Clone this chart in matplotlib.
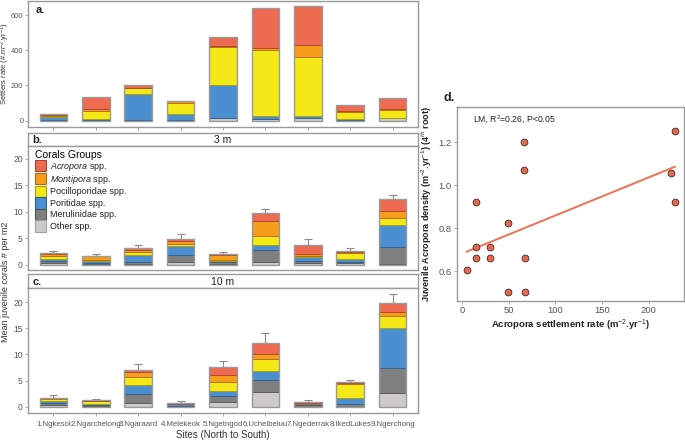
import matplotlib
matplotlib.use("Agg")
import matplotlib.pyplot as plt
from matplotlib.patches import Patch
import numpy as np

plt.rcParams['font.family'] = ['Liberation Sans', 'DejaVu Sans']
plt.rcParams['mathtext.fontset'] = 'custom'
plt.rcParams['mathtext.rm'] = 'Liberation Sans'
plt.rcParams['mathtext.it'] = 'Liberation Sans:italic'
plt.rcParams['mathtext.bf'] = 'Liberation Sans:bold'

sites = ["1.Ngkesol", "2.Ngarchelong", "3.Ngaraard", "4.Melekeok", "5.Ngetngod",
         "6.Uchelbeluu", "7.Ngederrak", "8.IkedLukes", "9.Ngerchong"]
groups = ["Other spp.", "Merulinidae spp.", "Poritidae spp.", "Pocilloporidae spp.",
          "Montipora spp.", "Acropora spp."]
legend_labels = ["Other spp.", "Merulinidae spp.", "Poritidae spp.", "Pocilloporidae spp.",
                 r"$\it{Montipora}$ spp.", r"$\it{Acropora}$ spp."]

# Panel a: settlers rate (segment heights, bottom -> top)
set_other = [0, 0, 0, 0, 13, 10, 17, 0, 15]
set_meru = [3, 3, 5, 5, 0, 0, 0, 2, 0]
set_pori = [15, 8, 145, 33, 187, 18, 9, 8, 0]
set_poci = [7, 45, 35, 64, 218, 373, 337, 41, 44]
set_mont = [5, 8, 0, 11, 6, 10, 65, 4, 7]
set_acro = [8, 68, 15, 0, 49, 227, 225, 34, 65]

# Panel b: juveniles 3 m
j3_other = [0.4, 0.2, 0.1, 0.6, 0.2, 0.6, 0.4, 0.3, 0.2]
j3_meru = [0.4, 0.2, 0.4, 1.2, 0.4, 2.3, 0.4, 0.3, 3.1]
j3_pori = [0.4, 0.3, 1.4, 1.8, 0.1, 0.8, 0.7, 0.6, 4.3]
j3_poci = [0.5, 0.3, 0.6, 0.3, 0.3, 1.7, 0.2, 1.1, 1.3]
j3_mont = [0.3, 0.6, 0.4, 0.7, 0.8, 2.85, 0.3, 0.2, 1.2]
j3_acro = [0.2, 0.15, 0.35, 0.2, 0.2, 1.5, 1.75, 0.05, 2.4]
j3_err = [0.5, 0.25, 0.45, 0.95, 0.4, 0.85, 1.05, 0.55, 0.6]

# Panel c: juveniles 10 m
j10_other = [0.3, 0.1, 0.8, 0.0, 0.9, 2.9, 0.0, 0.0, 2.7]
j10_meru = [0.4, 0.3, 1.7, 0.2, 1.1, 2.3, 0.3, 0.5, 4.7]
j10_pori = [0.3, 0.1, 1.6, 0.4, 1.1, 1.6, 0.3, 1.2, 7.6]
j10_poci = [0.4, 0.6, 1.5, 0.0, 1.6, 2.4, 0.0, 2.65, 2.4]
j10_mont = [0.2, 0.05, 1.0, 0.0, 1.4, 0.9, 0.1, 0.15, 0.7]
j10_acro = [0.1, 0.05, 0.4, 0.1, 1.4, 2.0, 0.15, 0.15, 1.7]
j10_err = [0.5, 0.25, 1.25, 0.3, 1.3, 1.95, 0.35, 0.4, 1.7]

# Panel d: scatter
acro_settle = [5, 14.6, 14.6, 14.6, 29.6, 29.6, 49.6, 49.6, 66.4, 66.4, 67.5, 67.5, 224, 227.9, 227.9]
acro_juv = [0.603, 0.923, 0.713, 0.663, 0.713, 0.663, 0.822, 0.502, 1.2, 1.072, 0.663, 0.502,
            1.058, 1.253, 0.923]

face = ['#CCCACA', '#7F7F7F', '#4C8FD0', '#F4E816', '#F89C1C', '#EE6A50']
edge = ['#A0A0A0', '#555555', '#2F5F91', '#A89F10', '#B06A10', '#A8432F']
outline = '#9A9A9A'
tickc = '#555555'

W, H = 685, 442
fig = plt.figure(figsize=(6.85, 4.42), dpi=100)

def fx(px):
    return px / W

def fy(py):
    return 1 - py / H

L, R = 28, 418

def ax_px(x0, y0, x1, y1):
    return fig.add_axes([fx(x0), fy(y1), fx(x1) - fx(x0), (y1 - y0) / H])

def style(ax, size=6.2):
    for s in ax.spines.values():
        s.set_color(outline)
        s.set_linewidth(1.0)
    ax.tick_params(labelsize=size, length=2.5, width=0.6, pad=1.2)
    ax.tick_params(axis='x', colors=outline, labelcolor=tickc)
    ax.tick_params(axis='y', colors=outline, labelcolor=tickc)

x = np.arange(1, 10)
bw = 0.65

def stacked(ax, series, err=None):
    bottom = np.zeros(9)
    for i, vals in enumerate(series):
        v = np.array(vals, dtype=float)
        ax.bar(x, v, bw, bottom=bottom, color=face[i], edgecolor=edge[i], linewidth=0.6, zorder=2)
        bottom += v
    ax.bar(x, bottom, bw, color='none', edgecolor=outline, linewidth=1.0, zorder=3)
    if err is not None:
        ax.errorbar(x, bottom, yerr=[np.zeros(9), err], fmt='none', ecolor='#8A8A8A',
                    elinewidth=0.8, capsize=3.2, capthick=0.8, zorder=1)
    return bottom

# Panel a
axa = ax_px(L, 1, R, 127)
stacked(axa, [set_other, set_meru, set_pori, set_poci, set_mont, set_acro])
axa.set_xlim(0.4, 9.6)
axa.set_ylim(-36, 680)
axa.set_yticks([0, 200, 400, 600])
axa.set_xticks(x)
axa.set_xticklabels([])
style(axa, size=5.4)
axa.tick_params(axis='y', pad=0.8)
axa.text(0.02, 0.97, "a.", transform=axa.transAxes, fontsize=8, fontweight='bold',
         va='top', ha='left', color='#222222')

def strip(y0, y1, letter, title):
    s = ax_px(L, y0, R, y1)
    s.set_xticks([]); s.set_yticks([])
    for sp in s.spines.values():
        sp.set_color(outline); sp.set_linewidth(1.0)
    s.text(0.012, 0.45, letter, transform=s.transAxes, fontsize=8, fontweight='bold',
           va='center', ha='left', color='#222222')
    s.text(0.5, 0.45, title, transform=s.transAxes, fontsize=7.5, va='center', ha='center',
           color='#222222')

# Panel b
strip(133, 146, "b.", "3 m")
axb = ax_px(L, 146, R, 270)
stacked(axb, [j3_other, j3_meru, j3_pori, j3_poci, j3_mont, j3_acro], j3_err)
axb.set_xlim(0.4, 9.6)
axb.set_ylim(-0.95, 22.4)
axb.set_yticks([0, 5, 10, 15, 20])
axb.set_xticks([])
style(axb)

handles = [Patch(facecolor=face[i], edgecolor=edge[i], linewidth=0.8) for i in range(5, -1, -1)]
labels = [legend_labels[i] for i in range(5, -1, -1)]
leg = axb.legend(handles, labels, loc='upper left', bbox_to_anchor=(0.0, 1.03), frameon=False,
                 fontsize=6.5, title="Corals Groups", title_fontsize=7.5, handlelength=1.2,
                 handleheight=1.6, labelspacing=0.0, handletextpad=0.45, borderpad=0.3,
                 alignment='left')
for t in leg.get_texts():
    t.set_color('#222222')

# Panel c
strip(274, 288, "c.", "10 m")
axc = ax_px(L, 288, R, 413)
stacked(axc, [j10_other, j10_meru, j10_pori, j10_poci, j10_mont, j10_acro], j10_err)
axc.set_xlim(0.4, 9.6)
axc.set_ylim(-1.2, 22.7)
axc.set_yticks([0, 5, 10, 15, 20])
axc.set_xticks(x)
style(axc)
axc.set_xticklabels(sites, fontsize=5.6)
axc.tick_params(axis='x', pad=3)
axc.set_xlabel("Sites (North to South)", fontsize=7, color='#333333', labelpad=2)

fig.text(fx(5.2), fy(64), "Settlers rate (#.m$^{-2}$.yr$^{-1}$)", rotation=90, fontsize=5.4,
         va='center', ha='center', color='#333333')
fig.text(fx(5.5), fy(282), "Mean juvenile corals # per m2", rotation=90, fontsize=6.5,
         va='center', ha='center', color='#333333')

# Panel d
axd = ax_px(456.7, 106.7, 684, 300.7)
xs = np.array(acro_settle); ys = np.array(acro_juv)
coef = np.polyfit(xs, ys, 1)
xl = np.array([xs.min(), xs.max()])
axd.plot(xl, np.polyval(coef, xl), color='#F07052', linewidth=1.4, zorder=2)
axd.scatter(xs, ys, s=24, facecolor='#E8674F', edgecolor='#3A2A28', linewidth=0.6, zorder=3)
axd.set_xlim(-5.7, 237.8)
axd.set_ylim(0.462, 1.366)
axd.set_xticks([0, 50, 100, 150, 200])
axd.set_yticks([0.6, 0.8, 1.0, 1.2])
style(axd, size=6.8)
axd.set_xlabel("Acropora settlement rate (m$^{-2}$.yr$^{-1}$)", fontsize=6.8, fontweight='bold',
               color='#222222', labelpad=2)
axd.set_ylabel("Juvenile Acropora density (m$^{-2}$.yr$^{-1}$) (4$^{th}$ root)", fontsize=6.5,
               fontweight='bold', color='#222222', labelpad=3)
axd.text(0.07, 0.93, "LM, R$^{2}$=0.26, P<0.05", transform=axd.transAxes, fontsize=6.2,
         va='center', ha='left', color='#222222')
fig.text(fx(443), fy(98), "d.", fontsize=9, fontweight='bold', va='center', ha='left',
         color='#222222')

fig.savefig("out.png", dpi=100)
